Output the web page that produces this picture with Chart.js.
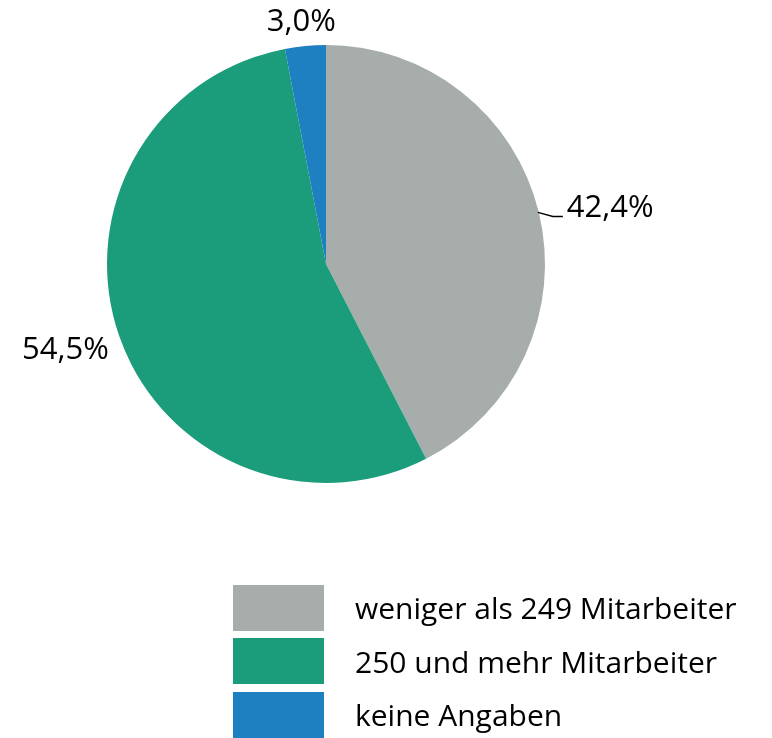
<!DOCTYPE html>
<html>
<head>
<meta charset="utf-8">
<script src="https://cdn.jsdelivr.net/npm/chart.js@4"></script>
<style>
  html, body { margin: 0; padding: 0; background: #fff; }
  #wrap { position: relative; width: 772px; height: 738px; }
  #c { position: absolute; left: 0; top: 0; }
  #legend { position: absolute; left: 233px; top: 581.3px; font-family: "Open Sans", sans-serif; }
  .item { display: flex; align-items: center; height: 53.3px; }
  .box { width: 91px; height: 46px; margin-right: 31px; flex: none; }
  .lbl { font-size: 30px; color: #000; white-space: nowrap; }
</style>
</head>
<body>
<div id="wrap">
  <canvas id="c" width="772" height="738"></canvas>
  <div id="legend"></div>
</div>
<script>
const categories = ["weniger als 249 Mitarbeiter", "250 und mehr Mitarbeiter", "keine Angaben"];
const values = [42.4, 54.5, 3.0];
const valueLabels = ["42,4%", "54,5%", "3,0%"];
const colors = ["#a6adab", "#1b9d7c", "#1f80c1"];

// legend (HTML, built from the arrays)
const leg = document.getElementById('legend');
categories.forEach((name, i) => {
  const it = document.createElement('div'); it.className = 'item';
  const b = document.createElement('div'); b.className = 'box'; b.style.background = colors[i];
  const t = document.createElement('div'); t.className = 'lbl'; t.textContent = name;
  it.appendChild(b); it.appendChild(t); leg.appendChild(it);
});

const labelPlugin = {
  id: 'sliceLabels',
  afterDatasetsDraw(chart) {
    const ctx = chart.ctx;
    const meta = chart.getDatasetMeta(0);
    ctx.save();
    ctx.font = '31px "Open Sans", sans-serif';
    ctx.fillStyle = '#000';
    ctx.textBaseline = 'middle';
    meta.data.forEach((arc, i) => {
      const mid = (arc.startAngle + arc.endAngle) / 2;
      const r = arc.outerRadius;
      const px = arc.x + Math.cos(mid) * r;
      const py = arc.y + Math.sin(mid) * r;
      if (i === 0) {
        ctx.strokeStyle = '#000';
        ctx.lineWidth = 1.3;
        ctx.beginPath();
        ctx.moveTo(px - 1, py);
        ctx.lineTo(px + 14, py + 4);
        ctx.lineTo(px + 24, py + 4);
        ctx.stroke();
        ctx.textAlign = 'left';
        ctx.fillText(valueLabels[i], px + 28, py - 4);
      } else if (i === 1) {
        ctx.textAlign = 'right';
        ctx.fillText(valueLabels[i], px - 10, py + 15);
      } else {
        ctx.textAlign = 'center';
        ctx.fillText(valueLabels[i], px - 4, py - 24);
      }
    });
    ctx.restore();
  }
};

new Chart(document.getElementById('c'), {
  type: 'pie',
  data: {
    labels: categories,
    datasets: [{
      data: values,
      backgroundColor: colors,
      borderWidth: 0,
      hoverOffset: 0
    }]
  },
  options: {
    responsive: false,
    animation: false,
    layout: { padding: { left: 107, right: 227, top: 45, bottom: 255 } },
    plugins: { legend: { display: false }, tooltip: { enabled: false } }
  },
  plugins: [labelPlugin]
});
</script>
</body>
</html>
